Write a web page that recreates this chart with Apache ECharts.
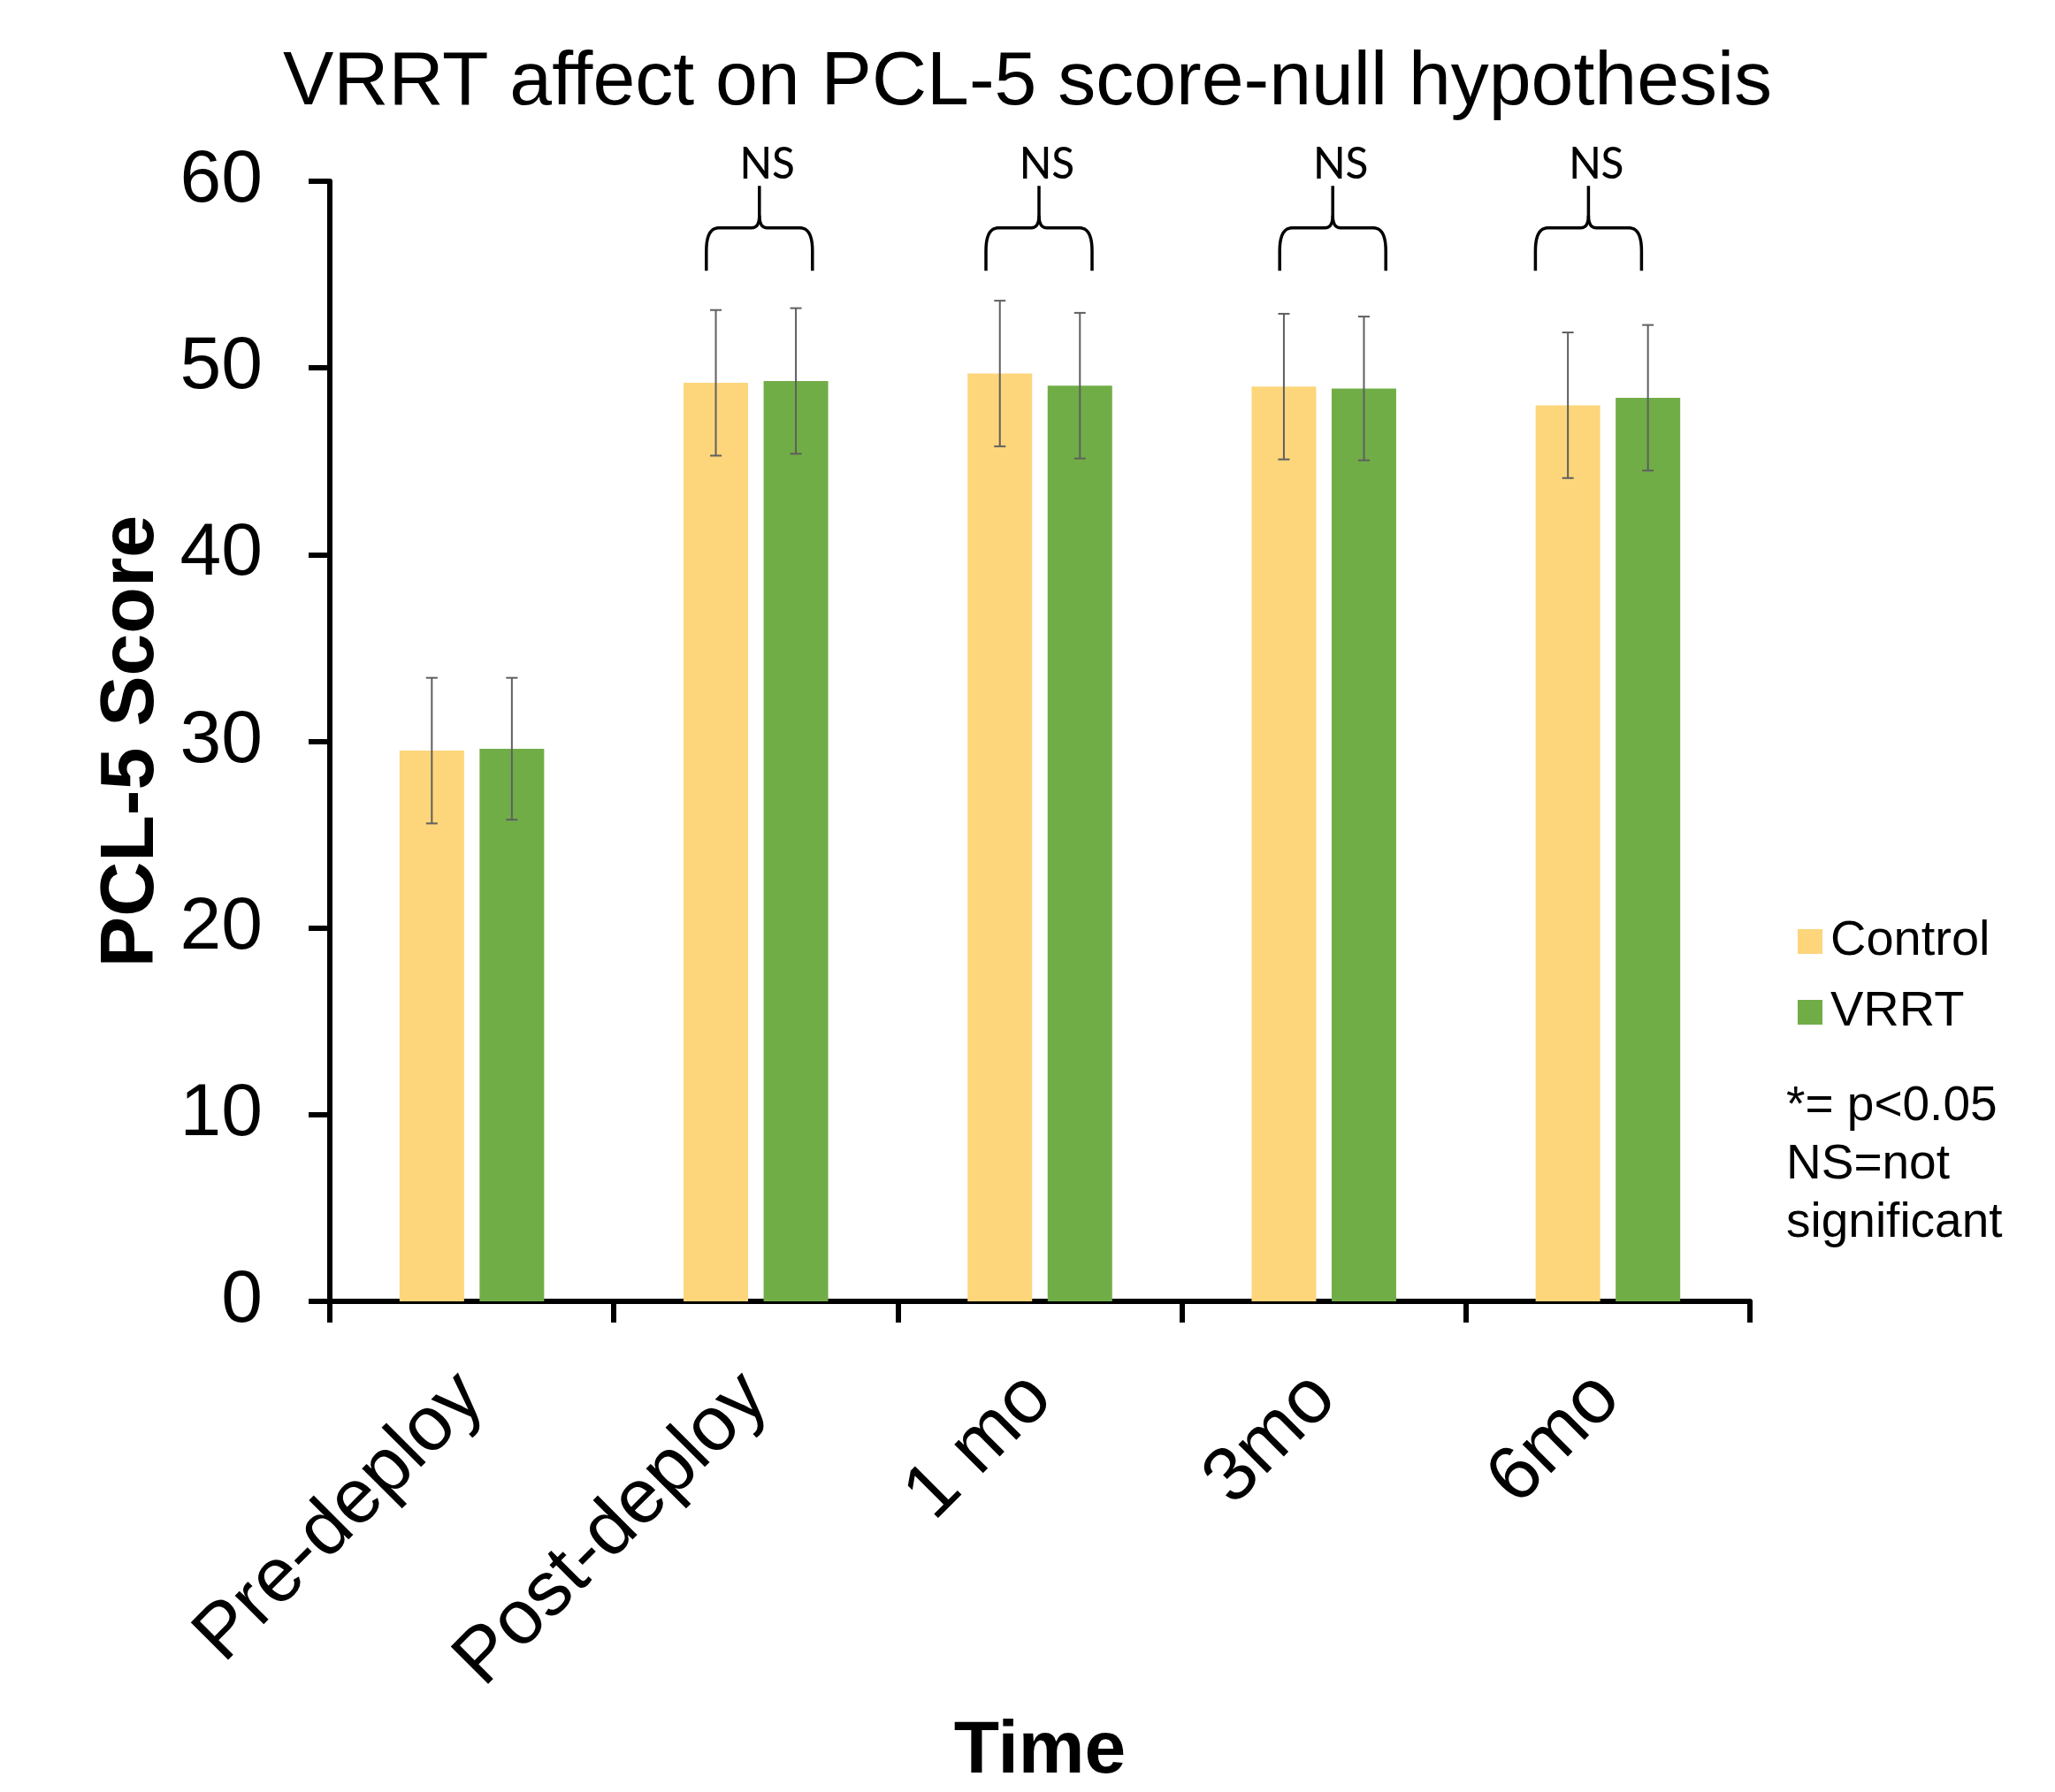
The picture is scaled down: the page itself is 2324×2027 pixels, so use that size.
<!DOCTYPE html>
<html><head><meta charset="utf-8">
<script src="https://cdn.jsdelivr.net/npm/echarts@6/dist/echarts.min.js"></script>
<style>html,body{margin:0;padding:0;background:#fff}#c{width:2324px;height:2027px}</style>
</head><body><div id="c"></div>
<script>
// ---------------- DATA ----------------
const categories = ['Pre-deploy', 'Post-deploy', '1 mo', '3mo', '6mo'];
const seriesNames = ['Control', 'VRRT'];
const controlValues = [29.5, 49.2, 49.7, 49.0, 48.0];
const vrrtValues = [29.6, 49.3, 49.05, 48.9, 48.4];
const controlErrors = [3.9, 3.9, 3.9, 3.9, 3.9];
const vrrtErrors = [3.8, 3.9, 3.9, 3.85, 3.9];
const significance = ['', 'NS', 'NS', 'NS', 'NS'];
const yTickValues = [0, 10, 20, 30, 40, 50, 60];
const titleText = 'VRRT affect on PCL-5 score-null hypothesis';
const yAxisTitle = 'PCL-5 Score';
const xAxisTitle = 'Time';
const noteLines = ['*= p<0.05', 'NS=not', 'significant'];

// ---------------- STYLE / LAYOUT ----------------
const FONT = 'Liberation Sans, Arial, sans-serif';
const NS_FONT = 'Carlito, Lato, sans-serif';
const COLOR_CONTROL = '#FDD57B';
const COLOR_VRRT = '#70AD47';
const ERR_COLOR = '#5f5f5f';
const BAR_WIDTH = 73;
const BAR_GAP_RATIO = 0.24;
const CAP_WIDTH = 13;
const AXIS_W = 6;
// brace levels (in axis units) and geometry
const BRACE_LEG_BOTTOM = 55.2;
const BRACE_BAR = 57.5;
const BRACE_TIP = 59.75;
const SIG_LABEL_LEVEL = 60.8;
const BRACE_HALF = 60;
const BRACE_SHIFT = [0, 4, -1, 10, -22];

const chart = echarts.init(document.getElementById('c'), null, {renderer: 'canvas'});

function errorBarRender(sign) {
  return function (params, api) {
    const idx = api.value(0), v = api.value(1), e = api.value(2);
    const top = api.coord([idx, v + e]);
    const bot = api.coord([idx, v - e]);
    const dx = sign * (BAR_WIDTH + BAR_WIDTH * BAR_GAP_RATIO) / 2;
    const x = top[0] + dx;
    const hw = CAP_WIDTH / 2;
    const st = {stroke: ERR_COLOR, lineWidth: 2};
    return {type: 'group', children: [
      {type: 'line', shape: {x1: x, y1: top[1], x2: x, y2: bot[1]}, style: st},
      {type: 'line', shape: {x1: x - hw, y1: top[1], x2: x + hw, y2: top[1]}, style: st},
      {type: 'line', shape: {x1: x - hw, y1: bot[1], x2: x + hw, y2: bot[1]}, style: st}
    ]};
  };
}

function quad(p0, c, p1, n) {
  const pts = [];
  for (let k = 1; k <= n; k++) {
    const t = k / n, u = 1 - t;
    pts.push([u * u * p0[0] + 2 * u * t * c[0] + t * t * p1[0], u * u * p0[1] + 2 * u * t * c[1] + t * t * p1[1]]);
  }
  return pts;
}

function braceRender(params, api) {
  const idx = api.value(0);
  const label = significance[idx];
  const base = api.coord([idx, BRACE_LEG_BOTTOM]);
  const cx = base[0] + BRACE_SHIFT[idx];
  const yb = base[1];
  const yh = api.coord([idx, BRACE_BAR])[1];
  const yt = api.coord([idx, BRACE_TIP])[1];
  const ylab = api.coord([idx, SIG_LABEL_LEVEL])[1];
  const xl = cx - BRACE_HALF, xr = cx + BRACE_HALF;
  const r1 = 26, r1x = 14, r2 = 14, r2x = 9;
  let left = [[xl, yb], [xl, yh + r1]];
  left = left.concat(quad([xl, yh + r1], [xl, yh], [xl + r1x, yh], 10));
  left.push([cx - r2x, yh]);
  left = left.concat(quad([cx - r2x, yh], [cx, yh], [cx, yh - r2], 8));
  left.push([cx, yt]);
  let right = [[xr, yb], [xr, yh + r1]];
  right = right.concat(quad([xr, yh + r1], [xr, yh], [xr - r1x, yh], 10));
  right.push([cx + r2x, yh]);
  right = right.concat(quad([cx + r2x, yh], [cx, yh], [cx, yh - r2], 8));
  const st = {stroke: '#000', lineWidth: 3.5, fill: null, lineJoin: 'round'};
  return {type: 'group', children: [
    {type: 'polyline', shape: {points: left}, style: st},
    {type: 'polyline', shape: {points: right}, style: st},
    {type: 'text', style: {text: label, x: cx + 9, y: ylab, align: 'center', verticalAlign: 'middle',
      fontSize: 56, fontFamily: NS_FONT, fill: '#000'}}
  ]};
}

const option = {
  animation: false,
  backgroundColor: '#ffffff',
  title: {
    text: titleText, left: 'center', top: 46,
    textStyle: {fontFamily: FONT, fontSize: 86, fontWeight: 'normal', color: '#000'}
  },
  legend: {
    data: seriesNames, orient: 'vertical', left: 2033, top: 1037,
    icon: 'rect', itemWidth: 28, itemHeight: 28, itemGap: 24, padding: 0,
    textStyle: {fontFamily: FONT, fontSize: 56, color: '#000', padding: [0, 0, 0, 4]}
  },
  graphic: [{
    type: 'text', left: 2020, top: 1219,
    style: {text: noteLines.join('\n'), fontFamily: FONT, fontSize: 55, lineHeight: 66, fill: '#000'}
  }],
  grid: {left: 373, right: 345, top: 205, bottom: 555, containLabel: false, outerBoundsMode: 'none'},
  xAxis: {
    type: 'category', data: categories, boundaryGap: true,
    name: xAxisTitle, nameLocation: 'middle', nameGap: 468,
    nameTextStyle: {fontFamily: FONT, fontSize: 84, fontWeight: 'bold', color: '#000'},
    axisLine: {show: true, lineStyle: {color: '#000', width: AXIS_W}},
    axisTick: {show: true, length: 24, alignWithLabel: false, interval: 0, lineStyle: {color: '#000', width: AXIS_W}},
    axisLabel: {interval: 0, rotate: 45, margin: 96, fontFamily: FONT, fontSize: 87, color: '#000'},
    splitLine: {show: false}
  },
  yAxis: {
    type: 'value', min: yTickValues[0], max: yTickValues[yTickValues.length - 1], interval: 10,
    name: yAxisTitle, nameLocation: 'middle', nameGap: 178, nameRotate: 90,
    nameTextStyle: {fontFamily: FONT, fontSize: 86, fontWeight: 'bold', color: '#000'},
    axisLine: {show: true, lineStyle: {color: '#000', width: AXIS_W}},
    axisTick: {show: true, length: 24, inside: false, lineStyle: {color: '#000', width: AXIS_W}},
    axisLabel: {margin: 76, fontFamily: FONT, fontSize: 84, color: '#000'},
    splitLine: {show: false}
  },
  series: [
    {name: seriesNames[0], type: 'bar', data: controlValues, barWidth: BAR_WIDTH, barGap: (BAR_GAP_RATIO * 100) + '%',
      itemStyle: {color: COLOR_CONTROL}, z: 2},
    {name: seriesNames[1], type: 'bar', data: vrrtValues, barWidth: BAR_WIDTH, barGap: (BAR_GAP_RATIO * 100) + '%',
      itemStyle: {color: COLOR_VRRT}, z: 2},
    {type: 'custom', name: 'errControl', renderItem: errorBarRender(-1), clip: false, z: 5,
      data: categories.map((c, i) => [i, controlValues[i], controlErrors[i]]), encode: {x: 0, y: 1}},
    {type: 'custom', name: 'errVRRT', renderItem: errorBarRender(1), clip: false, z: 5,
      data: categories.map((c, i) => [i, vrrtValues[i], vrrtErrors[i]]), encode: {x: 0, y: 1}},
    {type: 'custom', name: 'sig', renderItem: braceRender, clip: false, z: 6,
      data: categories.map((c, i) => [i, BRACE_LEG_BOTTOM]).filter(d => significance[d[0]] !== ''),
      encode: {x: 0, y: 1}}
  ]
};
chart.setOption(option);
</script></body></html>
